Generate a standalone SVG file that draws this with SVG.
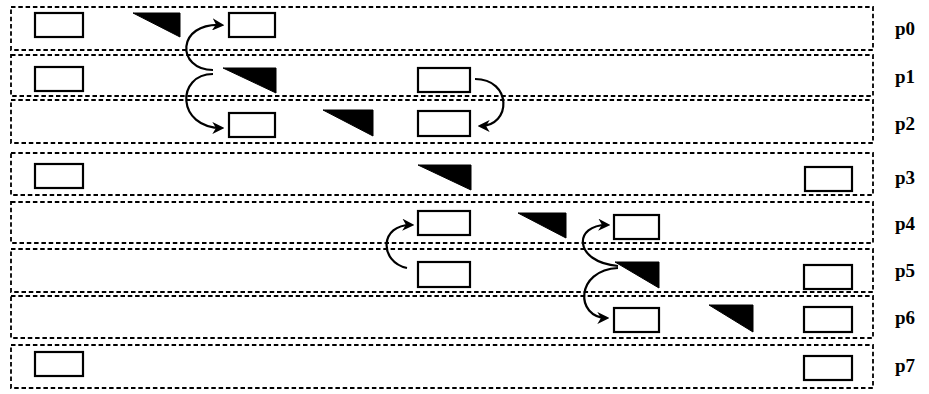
<svg xmlns="http://www.w3.org/2000/svg" width="929" height="394" viewBox="0 0 929 394">
  <style>
    .lane { fill: none; stroke: #000; stroke-width: 1.8; stroke-dasharray: 4.5 2.8; }
    .box { fill: #fff; stroke: #000; stroke-width: 2.2; }
    .tri { fill: #000; stroke: #000; stroke-width: 1; stroke-linejoin: round; }
    .arc { fill: none; stroke: #000; stroke-width: 2.2; }
    .lbl { font-family: "Liberation Serif", "Times New Roman", serif; font-weight: bold; font-size: 19px; fill: #000; }
  </style>
  <defs>
    <marker id="head" viewBox="0 0 10 10" refX="8" refY="5" markerWidth="5.5" markerHeight="5.5" orient="auto" markerUnits="strokeWidth">
      <path d="M0,0 L10,5 L0,10 L3,5 Z" fill="#000"/>
    </marker>
  </defs>
  <rect width="929" height="394" fill="#fff"/>

  <g id="p0">
    <rect class="lane" x="11" y="7" width="862" height="43"/>
    <rect class="box" x="35" y="13" width="48" height="24"/>
    <polygon class="tri" points="133,13 180,13 180,37"/>
    <rect class="box" x="229" y="13" width="46" height="24"/>
    <text class="lbl" x="895" y="35">p0</text>
  </g>
  <g id="p1">
    <rect class="lane" x="11" y="55" width="862" height="41"/>
    <rect class="box" x="35" y="67" width="48" height="24"/>
    <polygon class="tri" points="223,68 276,68 276,93"/>
    <rect class="box" x="418" y="68" width="52" height="24"/>
    <text class="lbl" x="895" y="83">p1</text>
  </g>
  <g id="p2">
    <rect class="lane" x="11" y="100" width="862" height="43"/>
    <rect class="box" x="229" y="113" width="46" height="24"/>
    <polygon class="tri" points="323,110 373,110 373,136"/>
    <rect class="box" x="418" y="111" width="52" height="25"/>
    <text class="lbl" x="895" y="130">p2</text>
  </g>
  <g id="p3">
    <rect class="lane" x="11" y="153" width="862" height="42"/>
    <rect class="box" x="35" y="164" width="48" height="24"/>
    <polygon class="tri" points="418,165 471,165 471,190"/>
    <rect class="box" x="805" y="167" width="47" height="24"/>
    <text class="lbl" x="895" y="184">p3</text>
  </g>
  <g id="p4">
    <rect class="lane" x="11" y="202" width="862" height="41"/>
    <rect class="box" x="418" y="211" width="52" height="24"/>
    <polygon class="tri" points="518,213 566,213 566,238"/>
    <rect class="box" x="614" y="215" width="45" height="24"/>
    <text class="lbl" x="895" y="230">p4</text>
  </g>
  <g id="p5">
    <rect class="lane" x="11" y="249" width="862" height="43"/>
    <rect class="box" x="418" y="262" width="52" height="25"/>
    <polygon class="tri" points="615,262 659,262 659,288"/>
    <rect class="box" x="804" y="265" width="48" height="24"/>
    <text class="lbl" x="895" y="277">p5</text>
  </g>
  <g id="p6">
    <rect class="lane" x="11" y="296" width="862" height="42"/>
    <rect class="box" x="614" y="308" width="45" height="24"/>
    <polygon class="tri" points="709,305 753,305 753,332"/>
    <rect class="box" x="804" y="307" width="48" height="25"/>
    <text class="lbl" x="895" y="324">p6</text>
  </g>
  <g id="p7">
    <rect class="lane" x="11" y="345" width="862" height="43"/>
    <rect class="box" x="35" y="352" width="48" height="24"/>
    <rect class="box" x="804" y="356" width="48" height="24"/>
    <text class="lbl" x="895" y="372">p7</text>
  </g>

  <g id="connectors">
    <path class="arc" d="M213,70 C176,70 176,22 222,25" marker-end="url(#head)"/>
    <path class="arc" d="M213,74 C176,74 176,128 222,128" marker-end="url(#head)"/>
    <path class="arc" d="M475,79 C512,79 512,126 480,126" marker-end="url(#head)"/>
    <path class="arc" d="M407,268 C379,262 379,224 412,225" marker-end="url(#head)"/>
    <path class="arc" d="M618,266 C573,262 573,224 608,225" marker-end="url(#head)"/>
    <path class="arc" d="M618,268 C575,270 575,318 607,318" marker-end="url(#head)"/>
  </g>
</svg>
